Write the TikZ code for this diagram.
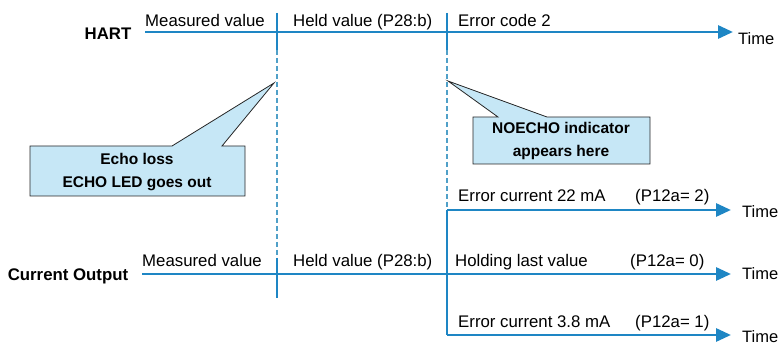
\documentclass[tikz,border=0pt]{standalone}
\usepackage{fontspec}
\setmainfont{Liberation Sans}
\usetikzlibrary{arrows.meta}
\definecolor{sig}{RGB}{30,134,196}
\definecolor{dash}{RGB}{80,160,200}
\definecolor{callfill}{RGB}{198,231,246}
\tikzset{
  sigline/.style={draw=sig, line width=2.9pt},
  sigarrow/.style={sigline, -{Triangle[length=15pt,width=13pt]}},
  dashline/.style={draw=dash, line width=1.5pt, dash pattern=on 5pt off 3pt},
  lbl/.style={anchor=base west, inner sep=0pt, font=\fontsize{16.8}{19}\selectfont},
  rowlbl/.style={anchor=center, inner sep=0pt, font=\fontsize{16.8}{19}\selectfont\bfseries},
  timelbl/.style={anchor=base west, inner sep=0pt, font=\fontsize{16.5}{19}\selectfont},
  calltext/.style={anchor=center, inner sep=0pt, align=center, font=\fontsize{15.5}{22.5}\selectfont\bfseries},
  callshape/.style={draw=black!85, line width=0.8pt, fill=callfill}
}
\begin{document}
\begin{tikzpicture}[x=1pt,y=-1pt]
\useasboundingbox (0,0) rectangle (780,347);
% coordinates
\coordinate (h0) at (145,32);
\coordinate (h1) at (733,32);
\coordinate (c0) at (142,274);
\coordinate (c1) at (731,274);
\coordinate (e0) at (447,210);
\coordinate (e1) at (731,210);
\coordinate (l0) at (447,335);
\coordinate (l1) at (731,335);
\coordinate (t1a) at (277,13);
\coordinate (t1b) at (277,50);
\coordinate (t1c) at (277,258);
\coordinate (t1d) at (277,298);
\coordinate (t2a) at (447,13);
\coordinate (t2b) at (447,50);

% row labels
\node[rowlbl] (hart) at (108,34) {HART};
\node[rowlbl] (cur) at (68,276) {Current Output};

% HART line
\draw[sigarrow] (h0) -- (h1);
\node[timelbl] (timeh) at (738,45) {Time};
\node[lbl] (hm) at (145,27) {Measured value};
\node[lbl] (hh) at (293,27) {Held value (P28:b)};
\node[lbl] (he) at (458,27) {Error code 2};

% ticks and dashed lines
\draw[sigline] (t1a) -- (t1b);
\draw[dashline] (t1b) -- (t1c);
\draw[sigline] (t1c) -- (t1d);
\draw[sigline] (t2a) -- (t2b);
\draw[dashline] (t2b) -- (e0);

% current output lines
\draw[sigarrow] (c0) -- (c1);
\draw[sigline] (e0) -- (l0);
\draw[sigarrow] (e0) -- (e1);
\draw[sigarrow] (l0) -- (l1);

\node[lbl] (cm) at (142,267) {Measured value};
\node[lbl] (ch) at (293,267) {Held value (P28:b)};
\node[lbl] (chl) at (455,267) {Holding last value};
\node[lbl] (cp0) at (630,267) {(P12a= 0)};
\node[lbl] (e22) at (458,202) {Error current 22 mA};
\node[lbl] (cp2) at (635,202) {(P12a= 2)};
\node[lbl] (e38) at (458,328) {Error current 3.8 mA};
\node[lbl] (cp1) at (635,328) {(P12a= 1)};

\node[timelbl] (time1) at (742,218) {Time};
\node[timelbl] (time2) at (742,280) {Time};
\node[timelbl] (time3) at (742,343) {Time};

% callouts
\draw[callshape] (30,146) -- (172,146) -- (274,83) -- (222,146) -- (245,146)
  -- (245,196) -- (30,196) -- cycle;
\node[calltext] (echo) at (137,172) {Echo loss\\ECHO LED goes out};

\draw[callshape] (473,117) -- (498,117) -- (448,81) -- (547,117) -- (650,117)
  -- (650,164) -- (473,164) -- cycle;
\node[calltext] (noecho) at (561,141) {NOECHO indicator\\appears here};
\end{tikzpicture}
\end{document}
